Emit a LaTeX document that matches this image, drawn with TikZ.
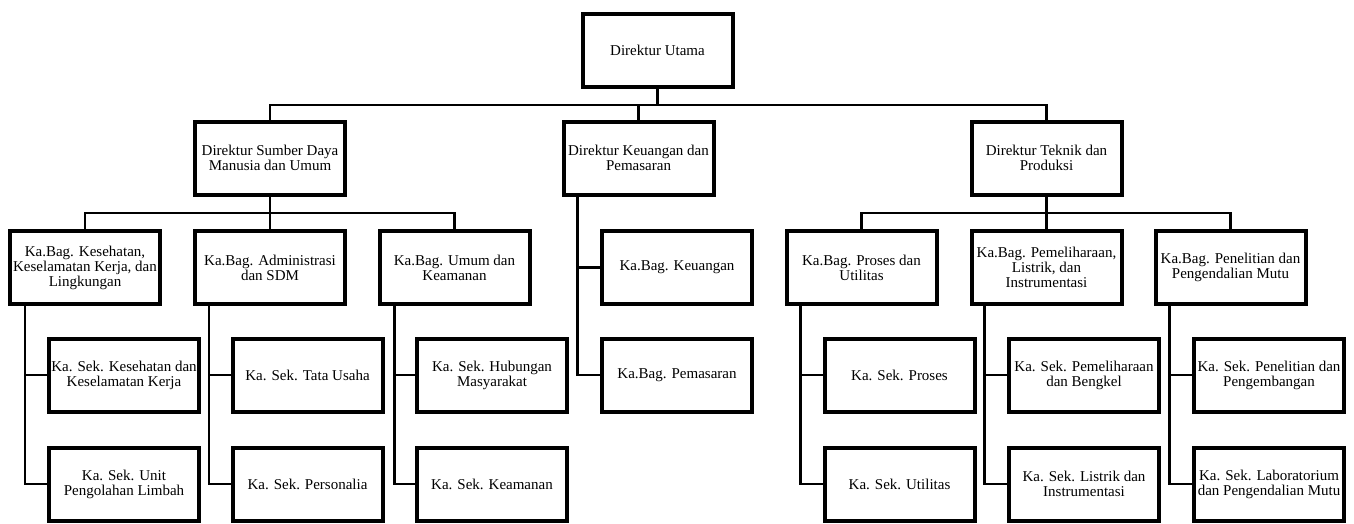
\documentclass[tikz,border=0pt]{standalone}
\usepackage{fontspec}
\setmainfont{Liberation Serif}
\usetikzlibrary{calc}
\begin{document}
\begin{tikzpicture}[x=1pt,y=-1pt,
  box/.style={draw, line width=4pt, minimum width=150pt, minimum height=73pt, inner sep=0pt, align=center, font=\fontsize{15}{15}\selectfont},
  conn/.style={line width=2.7pt, line join=miter}]
\useasboundingbox (0,0) rectangle (1354,523);
% level 1
\node[box] (U) at (657.5,50.5) {Direktur Utama};
% level 2
\node[box] (D1) at (270,158) {Direktur Sumber Daya\\Manusia dan Umum};
\node[box] (D2) at (638.5,158) {Direktur Keuangan dan\\Pemasaran};
\node[box] (D3) at (1046.5,158) {Direktur Teknik dan\\Produksi};
% level 3
\node[box] (B1) at (85,267.5) {Ka.Bag. Kesehatan,\\Keselamatan Kerja, dan\\Lingkungan};
\node[box] (B2) at (270,267.5) {Ka.Bag. Administrasi\\dan SDM};
\node[box] (B3) at (454.5,267.5) {Ka.Bag. Umum dan\\Keamanan};
\node[box] (B4) at (677,267.5) {Ka.Bag. Keuangan};
\node[box] (B5) at (861.5,267.5) {Ka.Bag. Proses dan\\Utilitas};
\node[box] (B6) at (1046.5,267.5) {Ka.Bag. Pemeliharaan,\\Listrik, dan\\Instrumentasi};
\node[box] (B7) at (1230.5,267.5) {Ka.Bag. Penelitian dan\\Pengendalian Mutu};
% level 4
\node[box] (S11) at (124,375) {Ka. Sek. Kesehatan dan\\Keselamatan Kerja};
\node[box] (S21) at (307.5,375) {Ka. Sek. Tata Usaha};
\node[box] (S31) at (492,375) {Ka. Sek. Hubungan\\Masyarakat};
\node[box] (B8) at (677,375) {Ka.Bag. Pemasaran};
\node[box] (S51) at (899.5,375) {Ka. Sek. Proses};
\node[box] (S61) at (1084,375) {Ka. Sek. Pemeliharaan\\dan Bengkel};
\node[box] (S71) at (1269,375) {Ka. Sek. Penelitian dan\\Pengembangan};
% level 5
\node[box] (S12) at (124,484) {Ka. Sek. Unit\\Pengolahan Limbah};
\node[box] (S22) at (307.5,484) {Ka. Sek. Personalia};
\node[box] (S32) at (492,484) {Ka. Sek. Keamanan};
\node[box] (S52) at (899.5,484) {Ka. Sek. Utilitas};
\node[box] (S62) at (1084,484) {Ka. Sek. Listrik dan\\Instrumentasi};
\node[box] (S72) at (1269,484) {Ka. Sek. Laboratorium\\dan Pengendalian Mutu};
% buses
\coordinate (bus1) at (0,105);
\coordinate (bus2) at (0,213);
\draw[conn] (U.south) -- (U.south |- bus1);
\draw[conn] (D1.north) |- (D3.north |- bus1) -- (D3.north);
\draw[conn] (D2.north) -- (D2.north |- bus1);
\draw[conn] (D1.south) -- (D1.south |- bus2);
\draw[conn] (B1.north) |- (B3.north |- bus2) -- (B3.north);
\draw[conn] (B2.north) -- (B2.north |- bus2);
\draw[conn] (D3.south) -- (D3.south |- bus2);
\draw[conn] (B5.north) |- (B7.north |- bus2) -- (B7.north);
\draw[conn] (B6.north) -- (B6.north |- bus2);
% side branches
\draw[conn] ($(D2.south west)+(16,0)$) |- (B4.west);
\draw[conn] ($(D2.south west)+(16,0)$) |- (B8.west);
\draw[conn] ($(B1.south west)+(17,0)$) |- (S11.west);
\draw[conn] ($(B1.south west)+(17,0)$) |- (S12.west);
\draw[conn] ($(B2.south west)+(16,0)$) |- (S21.west);
\draw[conn] ($(B2.south west)+(16,0)$) |- (S22.west);
\draw[conn] ($(B3.south west)+(17,0)$) |- (S31.west);
\draw[conn] ($(B3.south west)+(17,0)$) |- (S32.west);
\draw[conn] ($(B5.south west)+(16,0)$) |- (S51.west);
\draw[conn] ($(B5.south west)+(16,0)$) |- (S52.west);
\draw[conn] ($(B6.south west)+(15,0)$) |- (S61.west);
\draw[conn] ($(B6.south west)+(15,0)$) |- (S62.west);
\draw[conn] ($(B7.south west)+(16,0)$) |- (S71.west);
\draw[conn] ($(B7.south west)+(16,0)$) |- (S72.west);
\end{tikzpicture}
\end{document}
